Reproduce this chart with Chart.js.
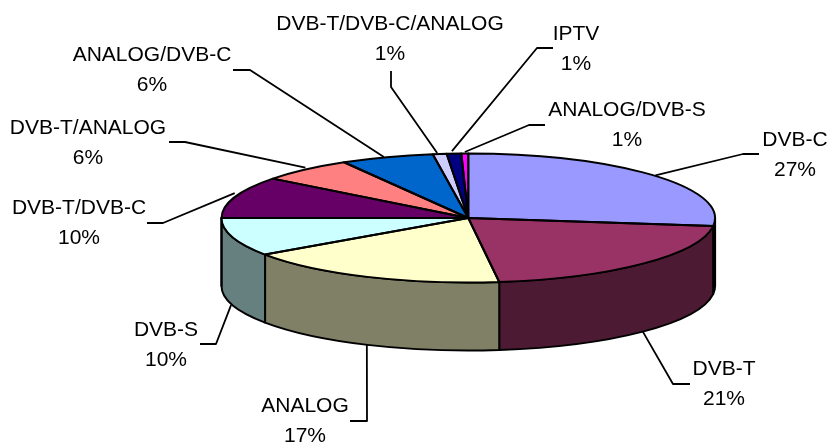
<!DOCTYPE html>
<html>
<head>
<meta charset="utf-8">
<style>html,body{margin:0;padding:0;background:#fff}canvas{display:block}</style>
<script src="https://cdn.jsdelivr.net/npm/chart.js@4"></script>
</head>
<body>
<canvas id="c" width="830" height="444"></canvas>
<script>
const categories = ['DVB-C','DVB-T','ANALOG','DVB-S','DVB-T/DVB-C','DVB-T/ANALOG','ANALOG/DVB-C','DVB-T/DVB-C/ANALOG','IPTV','ANALOG/DVB-S'];
const values = [27,21,17.4,9.6,10.45,6.15,6.1,0.9,0.95,0.45];
const percentLabels = ['27%','21%','17%','10%','10%','6%','6%','1%','1%','1%'];
const topColors = ['#9999FF','#993366','#FFFFCC','#CCFFFF','#660066','#FF8080','#0066CC','#CCCCFF','#000080','#FF00FF'];
const sideColors = ['#4D4D80','#4D1A33','#808066','#668080','#330033','#804040','#003366','#666680','#000040','#800080'];
// label layout: text centre x, first baseline y
const labelX = [795,724,305,166,79,88,152,390,576,627];
const labelY = [146,375,412,336,214,134,61,30,40,116];
// leader layout: outer end, elbow, small nudge from the slice's rim midpoint
const leaderEnd = [[759,154],[690,384],[350,421],[200,344],[147,223],[169,142],[233,70],[391,71],[553,48],[545,125]];
const leaderElbow = [[743,154],[673,384],[367,421],[216,344],[163,223],[185,142],[250,70],[391,87],[537,48],[529,125]];
const leaderNudge = [[2,0],[0,0],[-0.6,0],[-1.6,0],[0,-4],[0,-2],[-3,0],[-2.5,-1],[-2,-2.5],[0,-1.5]];

const pieCx = 468.3, pieCy = 218, pieRx = 246.8, pieRy = 64.5, pieDepth = 68;

const pie3d = {
  id: 'pie3d',
  beforeDatasetsDraw(chart) {
    const ctx = chart.ctx, arcs = chart.getDatasetMeta(0).data;
    ctx.save();
    ctx.lineWidth = 2; ctx.strokeStyle = '#000'; ctx.lineJoin = 'round';
    arcs.forEach((a, i) => {
      const lo = Math.max(a.startAngle, 0), hi = Math.min(a.endAngle, Math.PI);
      if (hi <= lo) return;
      ctx.beginPath();
      ctx.ellipse(pieCx, pieCy, pieRx, pieRy, 0, lo, hi);
      ctx.ellipse(pieCx, pieCy + pieDepth, pieRx, pieRy, 0, hi, lo, true);
      ctx.closePath();
      ctx.fillStyle = sideColors[i];
      ctx.fill(); ctx.stroke();
    });
    ctx.restore();
    const a0 = arcs[0], k = a0.outerRadius;
    ctx.save();
    ctx.translate(pieCx, pieCy);
    ctx.scale(pieRx / k, pieRy / k);
    ctx.translate(-a0.x, -a0.y);
  },
  afterDatasetsDraw(chart) {
    const ctx = chart.ctx, arcs = chart.getDatasetMeta(0).data;
    ctx.restore();
    ctx.save();
    ctx.lineWidth = 2; ctx.strokeStyle = '#000'; ctx.lineJoin = 'round';
    arcs.forEach(a => {
      ctx.beginPath();
      ctx.moveTo(pieCx, pieCy);
      ctx.ellipse(pieCx, pieCy, pieRx, pieRy, 0, a.startAngle, a.endAngle);
      ctx.closePath();
      ctx.stroke();
    });
    ctx.lineWidth = 1.8;
    arcs.forEach((a, i) => {
      const m = (a.startAngle + a.endAngle) / 2;
      const sy = Math.sin(m);
      const ax = pieCx + pieRx * Math.cos(m) + leaderNudge[i][0];
      const ay = pieCy + pieRy * sy + (sy > 0 ? pieDepth : 0) + leaderNudge[i][1];
      ctx.beginPath();
      ctx.moveTo(leaderEnd[i][0], leaderEnd[i][1]);
      ctx.lineTo(leaderElbow[i][0], leaderElbow[i][1]);
      ctx.lineTo(ax, ay);
      ctx.stroke();
    });
    ctx.fillStyle = '#000';
    ctx.font = '21px "Liberation Sans"';
    ctx.textAlign = 'center';
    ctx.textBaseline = 'alphabetic';
    categories.forEach((c, i) => {
      ctx.fillText(c, labelX[i], labelY[i]);
      ctx.fillText(percentLabels[i], labelX[i], labelY[i] + 30);
    });
    ctx.restore();
  }
};

new Chart(document.getElementById('c'), {
  type: 'pie',
  data: {
    labels: categories,
    datasets: [{ data: values, backgroundColor: topColors, borderWidth: 0, clip: false }]
  },
  options: {
    responsive: false,
    animation: false,
    devicePixelRatio: 1,
    layout: { padding: 0 },
    events: [],
    plugins: { legend: { display: false }, tooltip: { enabled: false }, title: { display: false } }
  },
  plugins: [pie3d]
});
</script>
</body>
</html>
